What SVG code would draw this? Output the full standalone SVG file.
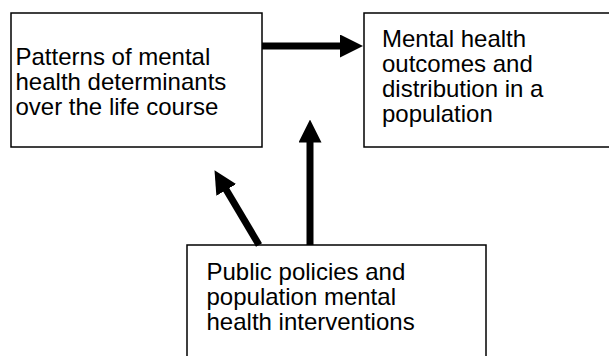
<svg xmlns="http://www.w3.org/2000/svg" width="609" height="356" viewBox="0 0 609 356">
<defs>
<style>
.box{fill:#fff;stroke:#000;stroke-width:1.5}
.t{font-family:"Liberation Sans",Arial,sans-serif;font-size:24px;fill:#000}
.c{stroke:#000;stroke-width:7;fill:none;marker-end:url(#ah)}
</style>
<marker id="ah" viewBox="0 -11.5 23 23" refX="1" refY="0" markerWidth="23" markerHeight="23" markerUnits="userSpaceOnUse" orient="auto">
<path d="M0,-11.5 L23,0 L0,11.5 z" fill="#000"/>
</marker>
</defs>
<rect width="609" height="356" fill="#fff"/>
<g id="node-determinants">
<rect class="box" x="11" y="13" width="251" height="134"/>
<text class="t"><tspan x="15.5" y="65">Patterns of mental</tspan><tspan x="15.5" y="90">health determinants</tspan><tspan x="15.5" y="115">over the life course</tspan></text>
</g>
<g id="node-outcomes">
<rect class="box" x="364" y="13" width="250" height="134"/>
<text class="t"><tspan x="382" y="47">Mental health</tspan><tspan x="382" y="72">outcomes and</tspan><tspan x="382" y="97">distribution in a</tspan><tspan x="382" y="122">population</tspan></text>
</g>
<g id="node-policies">
<rect class="box" x="187" y="245" width="299" height="120"/>
<text class="t"><tspan x="206.5" y="280">Public policies and</tspan><tspan x="206.5" y="305">population mental</tspan><tspan x="206.5" y="330">health interventions</tspan></text>
</g>
<g id="connectors">
<line class="c" x1="262" y1="46" x2="341" y2="46"/>
<line class="c" x1="310" y1="245" x2="310" y2="141.5"/>
<line class="c" x1="259" y1="245" x2="225.75" y2="189.07"/>
</g>
</svg>
